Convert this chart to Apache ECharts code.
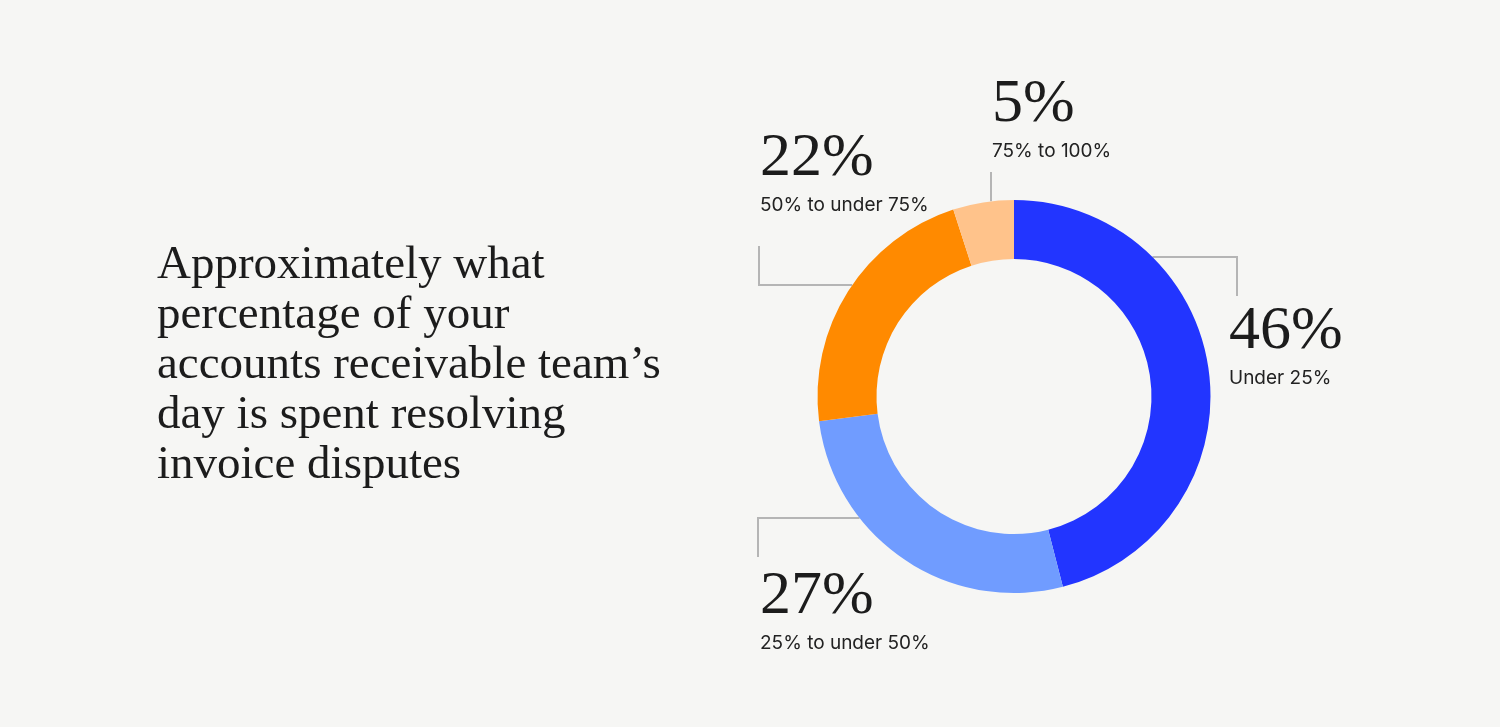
<!DOCTYPE html>
<html>
<head>
<meta charset="utf-8">
<style>
  html, body { margin: 0; padding: 0; background: #f6f6f4; }
  #chart { width: 1500px; height: 727px; }
</style>
<script src="https://cdn.jsdelivr.net/npm/echarts@6/dist/echarts.min.js"></script>
</head>
<body>
<div id="chart"></div>
<script>
const categories = ['Under 25%', '25% to under 50%', '50% to under 75%', '75% to 100%'];
const values = [46, 27, 22, 5];
const colors = ['#2235ff', '#709cff', '#ff8a00', '#ffc38b'];
const titleLines = [
  'Approximately what',
  'percentage of your',
  'accounts receivable team\u2019s',
  'day is spent resolving',
  'invoice disputes'
];

const CX = 1014, CY = 396.5, R_IN = 137.5, R_OUT = 196.5;

// label layout: label top-left, and leader line (horizontal segment at lineY then vertical to endY, or vertical at lineX)
const labelLayouts = [
  { x: 1229, y: 301, type: 'h', lineY: 257, elbowX: 1237, endY: 296 },
  { x: 760, y: 566, type: 'h', lineY: 518, elbowX: 758, endY: 557 },
  { x: 760, y: 128, type: 'h', lineY: 285, elbowX: 759, endY: 246 },
  { x: 992, y: 74, type: 'v', lineX: 991, endY: 172 }
];

function linePoints(l) {
  if (l.type === 'h') {
    const dy = l.lineY - CY;
    const dx = Math.sqrt(R_OUT * R_OUT - dy * dy);
    const sx = l.elbowX > CX ? CX + dx : CX - dx;
    return [[sx, l.lineY], [l.elbowX, l.lineY], [l.elbowX, l.endY]];
  } else {
    const dx = l.lineX - CX;
    const dy = Math.sqrt(R_OUT * R_OUT - dx * dx);
    const sy = CY - dy;
    return [[l.lineX, sy], [l.lineX, (sy + l.endY) / 2], [l.lineX, l.endY]];
  }
}

const chart = echarts.init(document.getElementById('chart'));
chart.setOption({
  backgroundColor: '#f6f6f4',
  animation: false,
  title: {
    text: titleLines.join('\n'),
    left: 157,
    top: 241,
    padding: 0,
    textStyle: {
      fontFamily: 'Liberation Serif',
      fontWeight: 'normal',
      fontSize: 47,
      lineHeight: 50,
      color: '#1c1c1c'
    }
  },
  series: [{
    type: 'pie',
    center: [CX, CY],
    radius: [R_IN, R_OUT],
    startAngle: 90,
    clockwise: true,
    silent: true,
    data: categories.map((c, i) => ({ name: c, value: values[i], itemStyle: { color: colors[i] } })),
    label: {
      show: true,
      position: 'outside',
      formatter: '{v|{c}%}\n{n|{b}}',
      rich: {
        v: { fontFamily: 'Liberation Serif', fontSize: 62, lineHeight: 62, color: '#1c1c1c' },
        n: { fontFamily: 'Inter', fontSize: 19, lineHeight: 30, color: '#222222' }
      }
    },
    labelLine: {
      show: true,
      lineStyle: { color: '#b5b5b5', width: 2 }
    },
    labelLayout: function (params) {
      const l = labelLayouts[params.dataIndex];
      return {
        x: l.x,
        y: l.y,
        align: 'left',
        verticalAlign: 'top',
        labelLinePoints: linePoints(l)
      };
    }
  }]
});
</script>
</body>
</html>
